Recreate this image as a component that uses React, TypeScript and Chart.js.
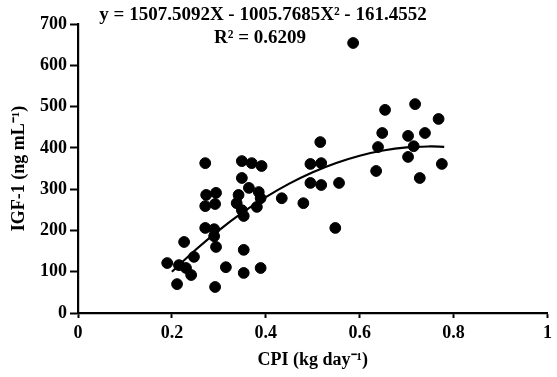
import React, { useEffect, useRef } from "react";
import { Chart, registerables } from "chart.js";

Chart.register(...registerables);

// Observed data: CPI (kg/day) vs IGF-1 (ng/mL)
const cpiValues: number[] = [
  0.19, 0.211, 0.215, 0.226, 0.23, 0.241, 0.247, 0.271, 0.273, 0.294,
  0.271, 0.292, 0.271, 0.29, 0.29, 0.294, 0.292, 0.315, 0.349, 0.37,
  0.391, 0.349, 0.342, 0.338, 0.349, 0.353, 0.364, 0.385, 0.389, 0.381,
  0.353, 0.353, 0.389, 0.434, 0.48, 0.495, 0.518, 0.516, 0.495, 0.518,
  0.556, 0.548, 0.586, 0.635, 0.639, 0.648, 0.654, 0.703, 0.703, 0.715,
  0.718, 0.728, 0.739, 0.768, 0.775,
];
const igfValues: number[] = [
  121, 70, 116, 172, 109, 92, 136, 363, 286, 291,
  259, 264, 206, 203, 186, 160, 63, 111, 368, 363,
  356, 327, 286, 266, 249, 235, 303, 293, 278, 257,
  153, 97, 109, 278, 266, 361, 363, 414, 315, 310,
  315, 206, 654, 344, 402, 436, 492, 429, 378, 404,
  506, 327, 436, 470, 361,
];

// Fitted quadratic curve values (as plotted)
const fitX: number[] = [0.2, 0.25, 0.3, 0.35, 0.4, 0.45, 0.5, 0.55, 0.6, 0.65, 0.7, 0.75, 0.78];
const fitY: number[] = [99.8, 152.6, 200.3, 243.0, 280.6, 313.3, 340.9, 363.4, 381.0, 393.5, 401.0, 403.4, 402.5];

const xTickLabels: string[] = ["0", "0.2", "0.4", "0.6", "0.8", "1"];
const equationText = "y = 1507.5092X - 1005.7685X\u00B2 - 161.4552";
const r2Text = "R\u00B2 = 0.6209";
const xTitle = "CPI (kg day\u207B\u00B9)";
const yTitle = "IGF-1 (ng mL\u207B\u00B9)";

const FONT = "'Liberation Serif', 'Times New Roman', serif";

export default function App() {
  const ref = useRef<HTMLCanvasElement | null>(null);

  useEffect(() => {
    if (!ref.current) return;
    const eqPlugin = {
      id: "eqText",
      afterDraw(chart: any) {
        const ctx = chart.ctx;
        ctx.save();
        ctx.fillStyle = "#000";
        ctx.font = `bold 19px ${FONT}`;
        ctx.textAlign = "center";
        ctx.textBaseline = "alphabetic";
        ctx.fillText(equationText, 263, 20);
        ctx.fillText(r2Text, 260, 43);
        ctx.restore();
      },
    };
    const chart = new Chart(ref.current, {
      type: "scatter",
      data: {
        datasets: [
          {
            type: "scatter",
            data: cpiValues.map((x, i) => ({ x, y: igfValues[i] })),
            backgroundColor: "#000",
            borderColor: "#000",
            pointRadius: 5.4,
            pointHoverRadius: 5.4,
            order: 2,
          } as any,
          {
            type: "line",
            data: fitX.map((x, i) => ({ x, y: fitY[i] })),
            borderColor: "#000",
            borderWidth: 2.2,
            pointRadius: 0,
            tension: 0.4,
            fill: false,
            order: 1,
          } as any,
        ],
      },
      options: {
        animation: false,
        responsive: false,
        layout: { padding: { top: 24, right: 7, left: 0, bottom: 0 } },
        plugins: { legend: { display: false }, tooltip: { enabled: false } },
        scales: {
          x: {
            type: "linear",
            min: 0,
            max: 1,
            afterFit: (s: any) => { s.height = 64; },
            ticks: {
              stepSize: 0.2,
              color: "#000",
              font: { family: FONT, size: 18, weight: "bold" },
              padding: 5,
              maxRotation: 0,
              callback: (_v: any, i: number) => xTickLabels[i],
            },
            grid: { drawOnChartArea: false, drawTicks: true, tickLength: 5, tickWidth: 2, color: "#000" },
            border: { color: "#000", width: 2.2 },
            title: { display: true, text: xTitle, color: "#000", font: { family: FONT, size: 18, weight: "bold" }, padding: { top: 0, bottom: 6 } },
          },
          y: {
            type: "linear",
            min: 0,
            max: 700,
            afterFit: (s: any) => { s.width = 78; },
            ticks: { stepSize: 100, color: "#000", font: { family: FONT, size: 18, weight: "bold" }, padding: 3 },
            grid: { drawOnChartArea: false, drawTicks: true, tickLength: 8, tickWidth: 2, color: "#000" },
            border: { color: "#000", width: 2.2 },
            title: { display: true, text: yTitle, color: "#000", font: { family: FONT, size: 18, weight: "bold" }, padding: { top: 9, bottom: 0 } },
          },
        },
      },
      plugins: [eqPlugin],
    });
    return () => chart.destroy();
  }, []);

  return (
    <div style={{ position: "absolute", left: 0, top: 0, width: 557, height: 377, background: "#fff" }}>
      <canvas ref={ref} width={557} height={377} style={{ display: "block" }} />
    </div>
  );
}
